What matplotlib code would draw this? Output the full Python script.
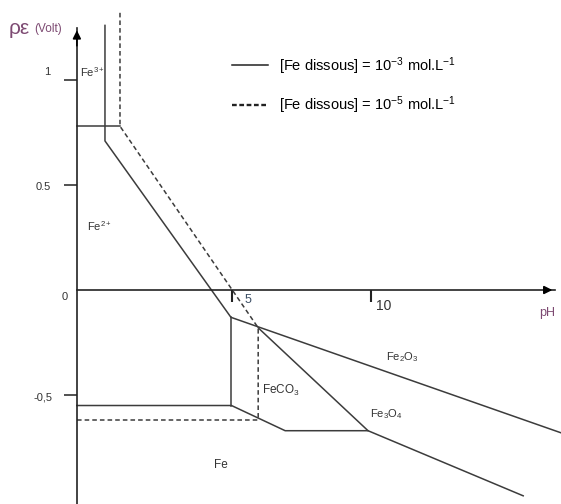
import matplotlib
matplotlib.use('Agg')
import matplotlib.pyplot as plt
from matplotlib.lines import Line2D

plt.rcParams['font.family'] = ['Liberation Sans', 'DejaVu Sans']
plt.rcParams['mathtext.fontset'] = 'custom'
plt.rcParams['mathtext.rm'] = 'Liberation Sans'
plt.rcParams['mathtext.it'] = 'Liberation Sans:italic'
plt.rcParams['mathtext.default'] = 'regular'

# ---------------- data (pH, pe in Volt) ----------------
# solid boundaries : [Fe dissous] = 1e-3 mol/L
fe3_fe2_ph = [-0.58, 0.97]
fe3_fe2_pe = [0.78, 0.78]
fe3_solid_ph = [0.43, 0.43, 4.96, 16.83]
fe3_solid_pe = [1.26, 0.71, -0.13, -0.68]
feco3_ph = [4.98, 4.98]
feco3_pe = [-0.13, -0.55]
fe_ph = [-0.58, 4.98, 6.91, 9.89, 15.47]
fe_pe = [-0.55, -0.55, -0.67, -0.67, -0.98]
fe2o3_fe3o4_ph = [5.94, 9.89]
fe2o3_fe3o4_pe = [-0.18, -0.67]
# dashed boundaries : [Fe dissous] = 1e-5 mol/L
dash_upper_ph = [0.97, 0.97, 5.94, 5.94]
dash_upper_pe = [1.32, 0.78, -0.18, -0.62]
dash_fe_ph = [-0.58, 5.94]
dash_fe_pe = [-0.62, -0.62]

ytick_vals = [1, 0.5, -0.5]
ytick_labels = ['1', '0.5', '-0,5']
xtick_vals = [5, 10]
xtick_labels = ['5', '10']
legend_labels = ['[Fe dissous] = 10$^{-3}$ mol.L$^{-1}$',
                 '[Fe dissous] = 10$^{-5}$ mol.L$^{-1}$']
species = ['Fe$^{3+}$', 'Fe$^{2+}$', 'Fe$_2$O$_3$', 'FeCO$_3$', 'Fe$_3$O$_4$', 'Fe']

# ---------------- figure ----------------
W, H = 561, 504
fig = plt.figure(figsize=(W / 100, H / 100), dpi=100)
ax = fig.add_axes([0, 0, 1, 1])
ax.set_xlim(-3.345, 16.83)
ax.set_ylim(-1.019, 1.381)
ax.patch.set_alpha(0)

y_axis_ph = -0.58
lc = '#3c3c3c'
lw = 1.1
dash = (0, (3, 2))

for s in ['top', 'right']:
    ax.spines[s].set_visible(False)
ax.spines['left'].set_position(('data', y_axis_ph))
ax.spines['bottom'].set_position(('data', 0))
ax.spines['left'].set_bounds(-1.019, 1.25)
ax.spines['bottom'].set_bounds(y_axis_ph, 16.6)
for s in ['left', 'bottom']:
    ax.spines[s].set_color('#222222')
    ax.spines[s].set_linewidth(1.2)

ax.set_yticks(ytick_vals)
ax.set_yticklabels([''] * len(ytick_vals))
ax.set_xticks(xtick_vals)
ax.set_xticklabels([''] * len(xtick_vals))
ax.tick_params(axis='y', direction='out', length=9.5, width=1.1, color='#222222')
ax.tick_params(axis='x', direction='out', length=8.5, width=1.5, color='#222222')

# axis arrow heads
ax.annotate('', xy=(y_axis_ph, 1.25), xytext=(y_axis_ph, 1.15),
            arrowprops=dict(arrowstyle='-|>', color='black', lw=1.2, mutation_scale=12))
ax.annotate('', xy=(16.62, 0), xytext=(16.2, 0),
            arrowprops=dict(arrowstyle='-|>', color='black', lw=1.2, mutation_scale=12))

# boundaries
ax.plot(fe3_fe2_ph, fe3_fe2_pe, color=lc, lw=lw, ls='-')
ax.plot(fe3_solid_ph, fe3_solid_pe, color=lc, lw=lw, ls='-')
ax.plot(feco3_ph, feco3_pe, color=lc, lw=lw, ls='-')
ax.plot(fe_ph, fe_pe, color=lc, lw=lw, ls='-')
ax.plot(fe2o3_fe3o4_ph, fe2o3_fe3o4_pe, color=lc, lw=lw, ls='-')
ax.plot(dash_upper_ph, dash_upper_pe, color=lc, lw=lw, ls=dash)
ax.plot(dash_fe_ph, dash_fe_pe, color=lc, lw=lw, ls=dash)

# legend
ax.legend([Line2D([], [], color='#222222', lw=1.1, ls='-'),
           Line2D([], [], color='#222222', lw=1.7, ls=(0, (2.0, 1.1)))],
          legend_labels, loc='upper left',
          bbox_to_anchor=(232 / W, 1 - 55 / H), bbox_transform=fig.transFigure,
          frameon=False, fontsize=10.5, handlelength=2.45, handletextpad=0.75,
          labelspacing=1.2, borderpad=0, borderaxespad=0)


def ftext(px, py, s, **kw):
    kw.setdefault('color', '#333333')
    kw.setdefault('va', 'center')
    kw.setdefault('ha', 'left')
    fig.text(px / W, 1 - py / H, s, **kw)


purple = '#7d4a72'
ftext(9, 29, 'ρε', fontsize=15, color=purple)
ftext(34, 29, '(Volt)', fontsize=8.5, color=purple)
ftext(539, 313, 'pH', fontsize=9, color=purple)

# tick labels
ftext(50, 72, ytick_labels[0], fontsize=8, ha='right')
ftext(51, 187, ytick_labels[1], fontsize=8, ha='right')
ftext(68, 297, '0', fontsize=8, ha='right')
ftext(53, 398, ytick_labels[2], fontsize=8, ha='right')
ftext(245, 300, xtick_labels[0], fontsize=9, color='#3d5066')
ftext(376, 306, xtick_labels[1], fontsize=10)

# species labels
ftext(80, 72, species[0], fontsize=8)
ftext(87, 226, species[1], fontsize=8)
ftext(386, 357, species[2], fontsize=8)
ftext(262, 390, species[3], fontsize=8.5)
ftext(370, 414, species[4], fontsize=8)
ftext(214, 465, species[5], fontsize=8.5)

fig.savefig('out.png', dpi=100)
